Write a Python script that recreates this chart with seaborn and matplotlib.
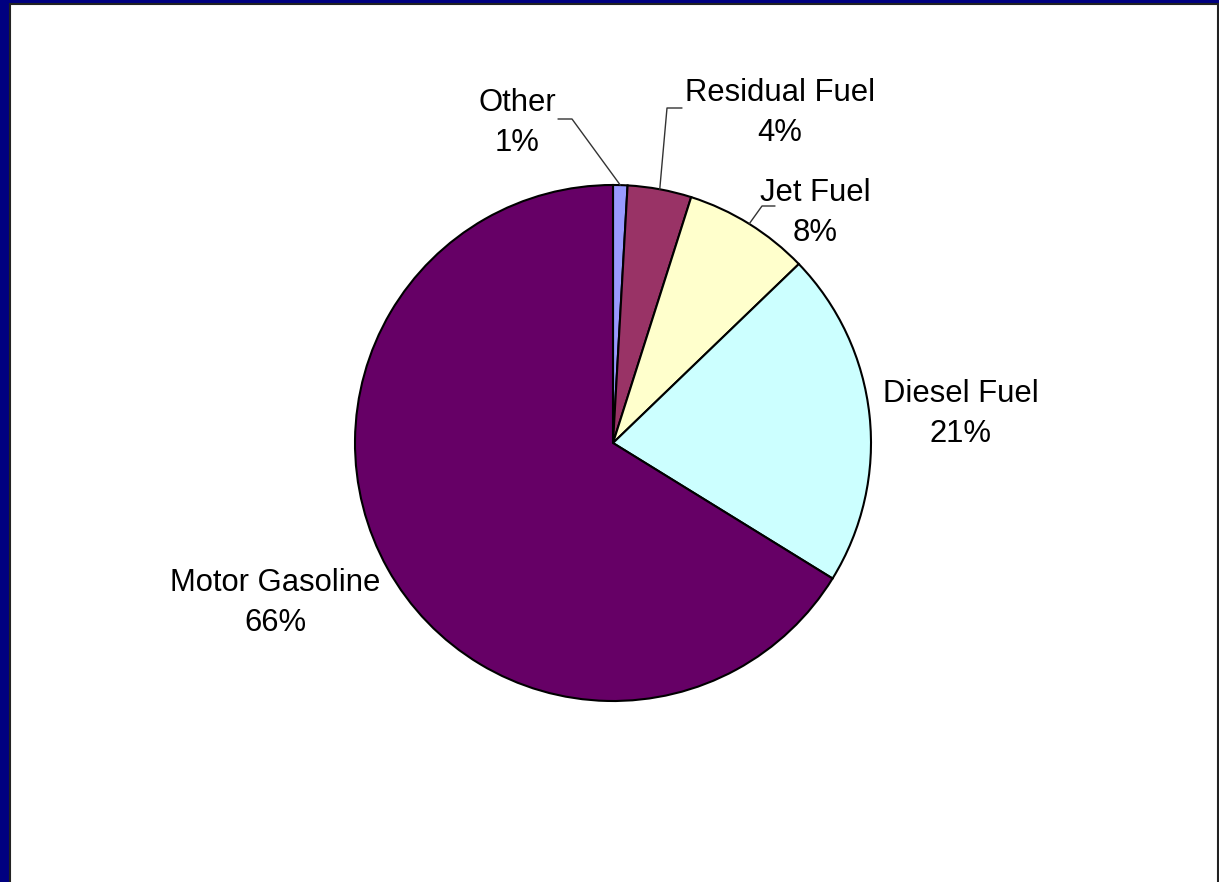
import matplotlib
matplotlib.use("Agg")
import matplotlib.pyplot as plt
from matplotlib.patches import Rectangle
import numpy as np
import seaborn as sns

# ---- data ----
categories = ["Other", "Residual Fuel", "Jet Fuel", "Diesel Fuel", "Motor Gasoline"]
shares = [0.9, 4.0, 7.9, 21.0, 66.2]
colors = ["#9999FF", "#993366", "#FFFFCC", "#CCFFFF", "#660066"]

sns.set_theme(style="white")
plt.rcParams["font.family"] = ["Liberation Sans", "DejaVu Sans"]

W, H, DPI = 1219, 882, 100
fig = plt.figure(figsize=(W / DPI, H / DPI), dpi=DPI)
fig.patch.set_facecolor("#000080")

# white slide panel
panel = Rectangle((10 / W, -0.01), (1218 - 10) / W, (H - 4) / H + 0.01, transform=fig.transFigure,
                  facecolor="white", edgecolor="#222222", linewidth=1.5, zorder=-10)
fig.patches.append(panel)

ax = fig.add_axes([0, 0, 1, 1], zorder=5)
ax.patch.set_alpha(0)
cx, cy, R = 613, 443, 258  # pixel layout of the pie

def px(x, y):
    return ((x - cx) / R, (cy - y) / R)

wedges, _ = ax.pie(shares, colors=sns.color_palette(colors), startangle=90, counterclock=False,
                   radius=1.0, center=(0, 0),
                   wedgeprops=dict(edgecolor="black", linewidth=1.5), frame=True)
ax.set_xlim(-cx / R, (W - cx) / R)
ax.set_ylim(-(H - cy) / R, cy / R)
ax.set_aspect("auto")
ax.axis("off")

# label layout (pixel centres)
label_pos = {
    "Other": (517, 123),
    "Residual Fuel": (780, 113),
    "Jet Fuel": (815, 213),
    "Diesel Fuel": (961, 414),
    "Motor Gasoline": (275, 603),
}
for cat, val in zip(categories, shares):
    x, y = px(*label_pos[cat])
    ax.text(x, y, f"{cat}\n{val:.0f}%", ha="center", va="center", fontsize=22.3,
            linespacing=1.42, color="black")

# leader lines: from wedge mid-angle on the arc to elbow then horizontal
leaders = {
    "Other": ((572, 119), (558, 119)),
    "Residual Fuel": ((667, 108), (682, 108)),
    "Jet Fuel": ((762, 206), (775, 206)),
}
for w, cat in zip(wedges, categories):
    if cat not in leaders:
        continue
    ang = np.deg2rad((w.theta1 + w.theta2) / 2)
    ax0, ay0 = np.cos(ang), np.sin(ang)
    (ex, ey), (hx, hy) = leaders[cat]
    p1 = px(ex, ey)
    p2 = px(hx, hy)
    ax.plot([ax0, p1[0], p2[0]], [ay0, p1[1], p2[1]], color="#333333", lw=1.0)

fig.savefig("out.png", dpi=DPI, facecolor=fig.get_facecolor())
